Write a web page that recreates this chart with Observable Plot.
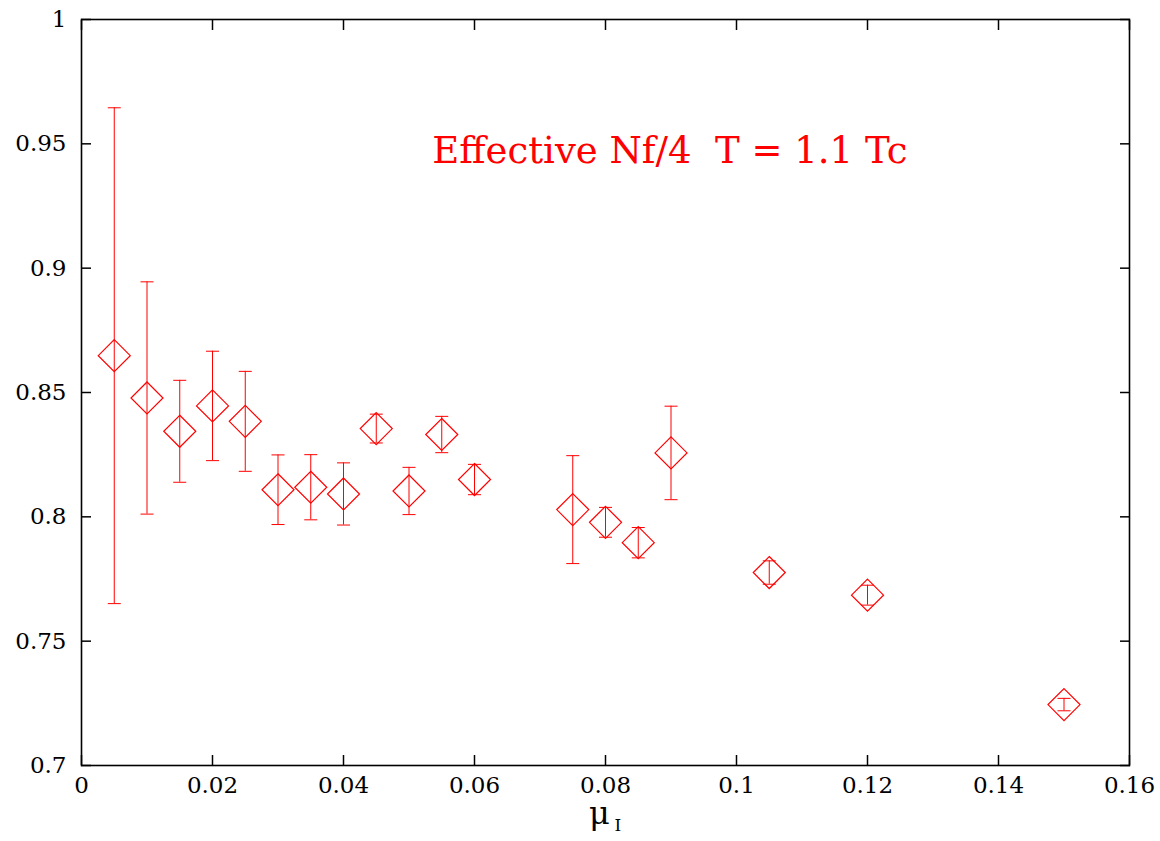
<!DOCTYPE html>
<html>
<head>
<meta charset="utf-8">
<script src="https://cdn.jsdelivr.net/npm/d3@7"></script>
<script src="https://cdn.jsdelivr.net/npm/@observablehq/plot@0.6"></script>
<style>
  html, body { margin: 0; padding: 0; background: #fff; }
  #chart { width: 1160px; height: 841px; }
</style>
</head>
<body>
<div id="chart"></div>
<script>
// ---- data ----
const mu = [0.005, 0.01, 0.015, 0.02, 0.025, 0.03, 0.035, 0.04, 0.045, 0.05, 0.055, 0.06, 0.075, 0.08, 0.085, 0.09, 0.105, 0.12, 0.15];
const value = [0.8648, 0.8478, 0.8344, 0.8446, 0.8384, 0.8109, 0.8119, 0.8092, 0.8355, 0.8104, 0.8331, 0.8150, 0.8029, 0.7978, 0.7896, 0.8257, 0.7776, 0.7685, 0.7245];
const error = [0.0997, 0.0467, 0.0205, 0.0220, 0.0201, 0.0140, 0.0131, 0.0125, 0.0058, 0.0095, 0.0073, 0.0061, 0.0217, 0.0060, 0.0061, 0.0188, 0.0047, 0.0040, 0.0025];

const xTicks = [0, 0.02, 0.04, 0.06, 0.08, 0.1, 0.12, 0.14, 0.16];
const xTickLabels = ["0", "0.02", "0.04", "0.06", "0.08", "0.1", "0.12", "0.14", "0.16"];
const yTicks = [0.7, 0.75, 0.8, 0.85, 0.9, 0.95, 1];
const yTickLabels = ["0.7", "0.75", "0.8", "0.85", "0.9", "0.95", "1"];

const titleText = "Effective Nf/4\u00a0 T = 1.1 Tc";
const titlePos = {x: 0.05356, y: 0.9469};

// ---- build ----
const rows = mu.map((m, i) => ({mu: m, v: value[i], lo: value[i] - error[i], hi: value[i] + error[i]}));

const diamond = {
  draw(context, size) {
    const h = Math.sqrt(size / Math.PI);
    context.moveTo(0, -h);
    context.lineTo(h, 0);
    context.lineTo(0, h);
    context.lineTo(-h, 0);
    context.closePath();
  }
};
const hline = {
  draw(context, size) {
    const w = Math.sqrt(size / Math.PI);
    context.moveTo(-w, 0);
    context.lineTo(w, 0);
  }
};

const red = "#ff0000";
const serif = "DejaVu Serif";
const xFmt = (d) => xTickLabels[xTicks.indexOf(d)];
const yFmt = (d) => yTickLabels[yTicks.indexOf(d)];

const chart = Plot.plot({
  width: 1160,
  height: 841,
  marginLeft: 81,
  marginRight: 31,
  marginTop: 19,
  marginBottom: 76,
  style: {fontFamily: serif, fontSize: "23px", background: "#fff", color: "#000"},
  x: {domain: [0, 0.16], axis: null},
  y: {domain: [0.7, 1], axis: null},
  marks: [
    Plot.axisX(xTicks, {anchor: "bottom", tickSize: -10, fill: "none", tickFormat: () => "", label: null, strokeWidth: 1.5}),
    Plot.axisX(xTicks, {anchor: "top", tickSize: -10, fill: "none", tickFormat: () => "", label: null, strokeWidth: 1.5}),
    Plot.axisY(yTicks, {anchor: "left", tickSize: -10, fill: "none", tickFormat: () => "", label: null, strokeWidth: 1.5}),
    Plot.axisY(yTicks, {anchor: "right", tickSize: -10, fill: "none", tickFormat: () => "", label: null, strokeWidth: 1.5}),
    Plot.axisX(xTicks, {anchor: "bottom", tickSize: 0, tickPadding: 11, tickFormat: xFmt, label: null, fontSize: 23, fontFamily: serif}),
    Plot.axisY(yTicks, {anchor: "left", tickSize: 0, tickPadding: 15, tickFormat: yFmt, label: null, fontSize: 23, fontFamily: serif}),
    Plot.frame({stroke: "#000", strokeWidth: 1.6}),
    Plot.ruleX(rows, {x: "mu", y1: "lo", y2: "hi", stroke: red, strokeWidth: 1}),
    Plot.dot(rows, {x: "mu", y: "lo", symbol: hline, r: 6.5, stroke: red, strokeWidth: 1, fill: "none"}),
    Plot.dot(rows, {x: "mu", y: "hi", symbol: hline, r: 6.5, stroke: red, strokeWidth: 1, fill: "none"}),
    Plot.dot(rows, {x: "mu", y: "v", symbol: diamond, r: 16, stroke: red, strokeWidth: 1.2, fill: "none"}),
    Plot.text([titleText], {x: () => titlePos.x, y: () => titlePos.y, text: (d) => d, textAnchor: "start", fill: red, fontSize: 37, fontFamily: serif}),
    Plot.text(["\u03bc"], {frameAnchor: "bottom", text: (d) => d, dx: -6, dy: 58, textAnchor: "middle", fontSize: 32, fill: "#000", fontFamily: serif}),
    Plot.text(["I"], {frameAnchor: "bottom", text: (d) => d, dx: 9, dy: 65, textAnchor: "start", fontSize: 17, fill: "#000", fontFamily: serif})
  ]
});

document.getElementById("chart").appendChild(chart);
</script>
</body>
</html>
